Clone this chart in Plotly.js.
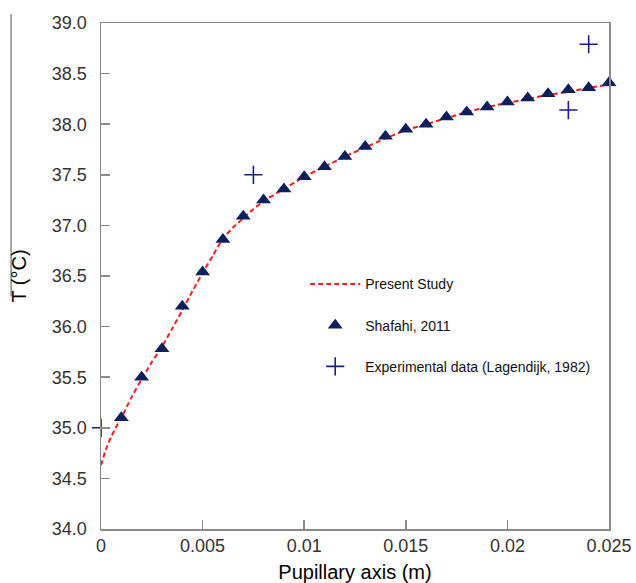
<!DOCTYPE html>
<html>
<head>
<meta charset="utf-8">
<script src="https://cdn.plot.ly/plotly-3.0.1.min.js"></script>
<style>html,body{margin:0;padding:0;background:#fff;}#chart{width:636px;height:583px;}</style>
</head>
<body>
<div id="chart"></div>
<script>
// Present Study (red dashed curve)
const studyX = [0, 0.00025, 0.0005, 0.00075, 0.001, 0.0015, 0.002, 0.0025, 0.003, 0.0035, 0.004, 0.0045, 0.005, 0.0055, 0.006, 0.0065, 0.007, 0.0075, 0.008, 0.009, 0.010, 0.011, 0.012, 0.013, 0.014, 0.015, 0.016, 0.017, 0.018, 0.019, 0.020, 0.021, 0.022, 0.023, 0.024, 0.025];
const studyT = [34.63, 34.79, 34.91, 35.01, 35.10, 35.30, 35.48, 35.65, 35.80, 35.98, 36.16, 36.35, 36.53, 36.70, 36.87, 36.98, 37.07, 37.16, 37.24, 37.36, 37.48, 37.58, 37.68, 37.77, 37.86, 37.94, 38.00, 38.06, 38.12, 38.17, 38.21, 38.25, 38.29, 38.32, 38.36, 38.39];

// Shafahi, 2011 (triangles)
const shafahiX = [0.001, 0.002, 0.003, 0.004, 0.005, 0.006, 0.007, 0.008, 0.009, 0.010, 0.011, 0.012, 0.013, 0.014, 0.015, 0.016, 0.017, 0.018, 0.019, 0.020, 0.021, 0.022, 0.023, 0.024, 0.025];
const shafahiT = [35.10, 35.50, 35.78, 36.20, 36.54, 36.86, 37.09, 37.25, 37.36, 37.48, 37.58, 37.68, 37.78, 37.88, 37.95, 38.00, 38.07, 38.12, 38.17, 38.22, 38.26, 38.30, 38.34, 38.36, 38.41];

// Experimental data (Lagendijk, 1982) (crosses)
const expX = [0, 0.0075, 0.023, 0.024];
const expT = [35.0, 37.5, 38.14, 38.79];

const xTicks = [0, 0.005, 0.01, 0.015, 0.02, 0.025];
const yTicks = [34.0, 34.5, 35.0, 35.5, 36.0, 36.5, 37.0, 37.5, 38.0, 38.5, 39.0];

const navy = '#0b1f5c';
const crossBlue = '#1c1c8a';

const traces = [
  {
    x: studyX, y: studyT, type: 'scatter', mode: 'lines', name: 'Present Study',
    line: {color: '#ff1a1a', width: 2, dash: '5px,3px', shape: 'spline', smoothing: 0.6},
    legendgroup: 'a', cliponaxis: false
  },
  {
    x: shafahiX, y: shafahiT, type: 'scatter', mode: 'markers', name: 'Shafahi, 2011',
    marker: {symbol: 'triangle-up', size: 13, color: navy, line: {width: 0}},
    legendgroup: 'b', cliponaxis: false
  },
  {
    x: expX, y: expT, type: 'scatter', mode: 'markers', name: 'Experimental data (Lagendijk, 1982)',
    yaxis: 'y2',
    marker: {symbol: 'cross-thin-open', size: 13, color: crossBlue, line: {width: 1.6, color: crossBlue}},
    legendgroup: 'c', cliponaxis: false
  }
];

const fontFam = '"Liberation Sans", Arial, sans-serif';

const layout = {
  width: 636, height: 583,
  margin: {l: 101, r: 27, t: 23, b: 54},
  paper_bgcolor: '#fff', plot_bgcolor: '#fff',
  font: {family: fontFam, color: '#333'},
  showlegend: true,
  legend: {
    x: 0.402, y: 0.515, xanchor: 'left', yanchor: 'top',
    bgcolor: 'rgba(0,0,0,0)', borderwidth: 0,
    font: {family: fontFam, size: 14, color: '#111'},
    traceorder: 'grouped', tracegroupgap: 20, itemwidth: 50
  },
  xaxis: {
    range: [0, 0.025], tickvals: xTicks, ticktext: xTicks.map(String),
    showline: true, mirror: true, linecolor: '#8a8a8a', linewidth: 1.5,
    ticks: 'inside', ticklen: 9, tickwidth: 1.5, tickcolor: '#8a8a8a',
    showgrid: false, zeroline: false,
    tickfont: {family: fontFam, size: 18, color: '#333'},
    title: {text: 'Pupillary axis (m)', font: {family: fontFam, size: 20, color: '#000'}, standoff: 12}
  },
  yaxis: {
    range: [34, 39], tickvals: yTicks, ticktext: yTicks.map(v => v.toFixed(1)),
    showline: true, mirror: true, linecolor: '#8a8a8a', linewidth: 1.5,
    ticks: 'outside', ticklen: 9, tickwidth: 1, tickcolor: 'rgba(0,0,0,0)',
    showgrid: false, zeroline: false,
    tickfont: {family: fontFam, size: 18, color: '#333'},
    title: {text: 'T (°C)', font: {family: fontFam, size: 20, color: '#000'}, standoff: 20}
  },
  yaxis2: {
    overlaying: 'y', anchor: 'x', side: 'left',
    range: [34, 39], tickvals: yTicks, showticklabels: false,
    showline: false, showgrid: false, zeroline: false,
    ticks: 'inside', ticklen: 9, tickwidth: 1.5, tickcolor: '#8a8a8a'
  },
  shapes: [
    {type: 'line', xref: 'paper', yref: 'paper', x0: -0.177, x1: -0.177, y0: 1.018, y1: 0.46,
     line: {color: '#8a8a8a', width: 1.5}}
  ]
};

Plotly.newPlot('chart', traces, layout, {displayModeBar: false, staticPlot: true});
</script>
</body>
</html>
